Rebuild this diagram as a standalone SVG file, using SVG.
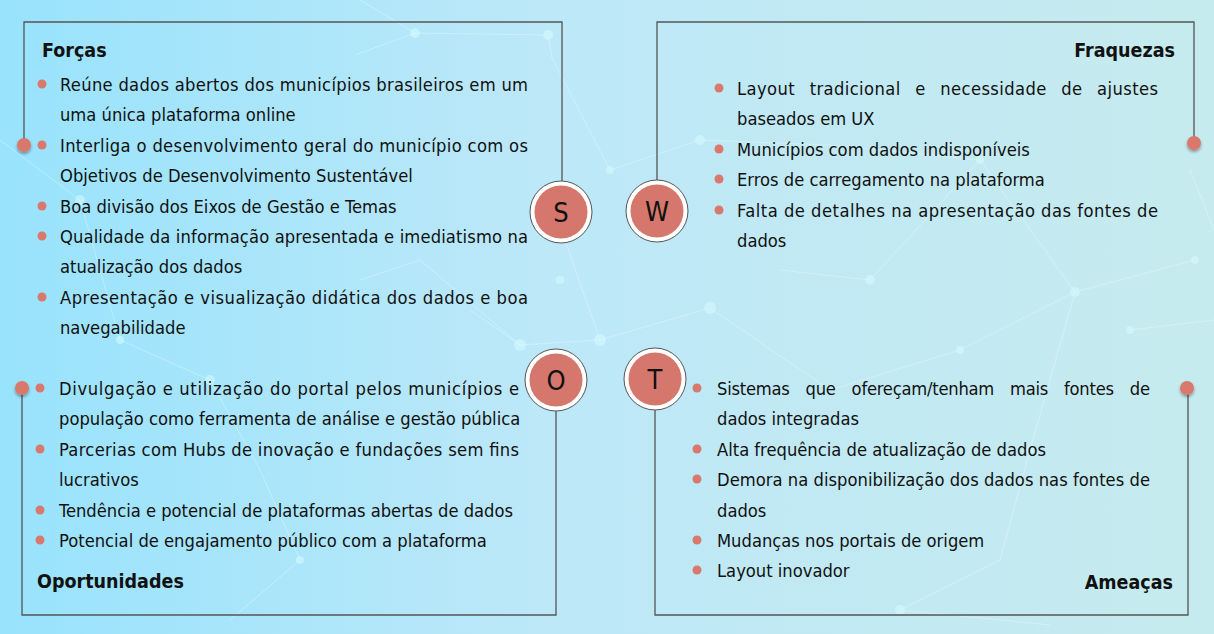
<svg xmlns="http://www.w3.org/2000/svg" width="1214" height="634" viewBox="0 0 1214 634">
<defs>
<linearGradient id="bg" x1="0" y1="0" x2="1" y2="0">
<stop offset="0" stop-color="#98e3fc"/>
<stop offset="0.45" stop-color="#bde8f8"/>
<stop offset="1" stop-color="#c6ebee"/>
</linearGradient>
<filter id="sh" x="-50%" y="-50%" width="200%" height="200%">
<feDropShadow dx="0" dy="2" stdDeviation="1.5" flood-color="#000" flood-opacity="0.35"/>
</filter>
<style>
.t{font-family:"Liberation Sans Narrow","DejaVu Sans Condensed",sans-serif;font-size:18.2px;fill:#111}
.h{font-family:"Liberation Sans Narrow","DejaVu Sans Condensed",sans-serif;font-size:19.5px;font-weight:bold;fill:#111}
.l{font-family:"DejaVu Sans Condensed","Liberation Sans",sans-serif;font-size:27px;fill:#111;text-anchor:middle}
.b{fill:#d9786d}
.ln{stroke:#555;stroke-width:1.3;fill:none}
.ring{fill:#fff;stroke:#555;stroke-width:1}
.core{fill:#d5776c}
.net line{stroke:#e8fbff;stroke-width:1;opacity:0.4}
.net circle{fill:#d6fbff;opacity:0.55}
</style>
</defs>
<rect width="1214" height="634" fill="url(#bg)"/>
<g class="net">
<line x1="360" y1="0" x2="415" y2="33"/><line x1="415" y1="33" x2="548" y2="35"/><line x1="415" y1="33" x2="355" y2="55"/>
<line x1="548" y1="35" x2="552" y2="58"/><line x1="552" y1="58" x2="610" y2="170"/><line x1="610" y1="170" x2="700" y2="140"/>
<line x1="700" y1="140" x2="830" y2="145"/><line x1="830" y1="145" x2="980" y2="160"/><line x1="980" y1="160" x2="1075" y2="292"/>
<line x1="1075" y1="292" x2="1195" y2="260"/><line x1="1075" y1="292" x2="960" y2="350"/><line x1="960" y1="350" x2="830" y2="390"/>
<line x1="710" y1="308" x2="830" y2="390"/><line x1="710" y1="308" x2="600" y2="340"/><line x1="600" y1="340" x2="520" y2="345"/>
<line x1="600" y1="340" x2="565" y2="240"/><line x1="520" y1="345" x2="470" y2="310"/><line x1="1075" y1="292" x2="1030" y2="450"/>
<line x1="1030" y1="450" x2="1000" y2="560"/><line x1="1000" y1="560" x2="900" y2="610"/><line x1="900" y1="610" x2="1050" y2="625"/>
<line x1="1190" y1="170" x2="1214" y2="230"/><line x1="0" y1="140" x2="80" y2="200"/><line x1="80" y1="200" x2="120" y2="340"/>
<line x1="120" y1="340" x2="210" y2="380"/><line x1="210" y1="380" x2="260" y2="470"/><line x1="260" y1="470" x2="300" y2="560"/>
<line x1="300" y1="560" x2="230" y2="620"/><line x1="420" y1="260" x2="520" y2="345"/><line x1="360" y1="280" x2="420" y2="260"/>
<line x1="780" y1="270" x2="870" y2="280"/><line x1="870" y1="280" x2="980" y2="160"/><line x1="1130" y1="330" x2="1214" y2="320"/>
</g>
<g class="net">
<circle cx="415" cy="33" r="5"/><circle cx="548" cy="35" r="5"/><circle cx="610" cy="170" r="4"/><circle cx="700" cy="140" r="5"/>
<circle cx="980" cy="160" r="4"/><circle cx="1075" cy="292" r="5"/><circle cx="960" cy="350" r="4"/><circle cx="710" cy="308" r="6"/>
<circle cx="600" cy="340" r="6"/><circle cx="520" cy="345" r="6"/><circle cx="1030" cy="450" r="4"/><circle cx="900" cy="610" r="5"/>
<circle cx="80" cy="200" r="5"/><circle cx="120" cy="340" r="4"/><circle cx="210" cy="380" r="5"/><circle cx="300" cy="560" r="4"/>
<circle cx="870" cy="280" r="5"/><circle cx="1130" cy="330" r="4"/><circle cx="1195" cy="260" r="4"/><circle cx="560" cy="280" r="4"/>
</g>
<g id="connectors">
<path class="ln" d="M24 145 V22 H562 V181"/>
<path class="ln" d="M657 180 V22 H1194 V143"/>
<path class="ln" d="M22 388 V615 H556 V411"/>
<path class="ln" d="M655 410 V615 H1188 V388"/>
</g>
<g id="dots">
<circle cx="24" cy="145" r="7" class="b" filter="url(#sh)"/>
<circle cx="1194" cy="143" r="7" class="b" filter="url(#sh)"/>
<circle cx="22" cy="388" r="7" class="b" filter="url(#sh)"/>
<circle cx="1187" cy="388" r="7" class="b" filter="url(#sh)"/>
</g>
<g id="forcas">
<text class="h" x="42" y="57">Forças</text>
<circle class="b" cx="42" cy="84" r="4.5"/><circle class="b" cx="42" cy="145" r="4.5"/><circle class="b" cx="42" cy="206" r="4.5"/><circle class="b" cx="42" cy="236" r="4.5"/><circle class="b" cx="42" cy="297" r="4.5"/>
<text class="t" x="60" y="91" textLength="468" lengthAdjust="spacing">Reúne dados abertos dos municípios brasileiros em um</text>
<text class="t" x="60" y="121.4">uma única plataforma online</text>
<text class="t" x="60" y="151.8" textLength="468" lengthAdjust="spacing">Interliga o desenvolvimento geral do município com os</text>
<text class="t" x="60" y="182.2">Objetivos de Desenvolvimento Sustentável</text>
<text class="t" x="60" y="212.6">Boa divisão dos Eixos de Gestão e Temas</text>
<text class="t" x="60" y="243" textLength="468" lengthAdjust="spacing">Qualidade da informação apresentada e imediatismo na</text>
<text class="t" x="60" y="273.4">atualização dos dados</text>
<text class="t" x="60" y="303.8" textLength="468" lengthAdjust="spacing">Apresentação e visualização didática dos dados e boa</text>
<text class="t" x="60" y="334.2">navegabilidade</text>
</g>
<g id="fraquezas">
<text class="h" x="1175" y="57" text-anchor="end">Fraquezas</text>
<circle class="b" cx="719" cy="88" r="4.5"/><circle class="b" cx="719" cy="149" r="4.5"/><circle class="b" cx="719" cy="179" r="4.5"/><circle class="b" cx="719" cy="210" r="4.5"/>
<text class="t" x="737" y="95" word-spacing="9" textLength="421" lengthAdjust="spacing">Layout tradicional e necessidade de ajustes</text>
<text class="t" x="737" y="125.4">baseados em UX</text>
<text class="t" x="737" y="155.8">Municípios com dados indisponíveis</text>
<text class="t" x="737" y="186.2">Erros de carregamento na plataforma</text>
<text class="t" x="737" y="216.6" textLength="421" lengthAdjust="spacing">Falta de detalhes na apresentação das fontes de</text>
<text class="t" x="737" y="247">dados</text>
</g>
<g id="oportunidades">
<circle class="b" cx="40" cy="388" r="4.5"/><circle class="b" cx="40" cy="449" r="4.5"/><circle class="b" cx="40" cy="510" r="4.5"/><circle class="b" cx="40" cy="540" r="4.5"/>
<text class="t" x="59" y="395" textLength="460" lengthAdjust="spacing">Divulgação e utilização do portal pelos municípios e</text>
<text class="t" x="59" y="425.4">população como ferramenta de análise e gestão pública</text>
<text class="t" x="59" y="455.8" textLength="460" lengthAdjust="spacing">Parcerias com Hubs de inovação e fundações sem fins</text>
<text class="t" x="59" y="486.2">lucrativos</text>
<text class="t" x="59" y="516.6">Tendência e potencial de plataformas abertas de dados</text>
<text class="t" x="59" y="547">Potencial de engajamento público com a plataforma</text>
<text class="h" x="37" y="588">Oportunidades</text>
</g>
<g id="ameacas">
<circle class="b" cx="697" cy="388" r="4.5"/><circle class="b" cx="697" cy="449" r="4.5"/><circle class="b" cx="697" cy="479" r="4.5"/><circle class="b" cx="697" cy="540" r="4.5"/><circle class="b" cx="697" cy="570" r="4.5"/>
<text class="t" x="717" y="395" word-spacing="11" textLength="433" lengthAdjust="spacing">Sistemas que ofereçam/tenham mais fontes de</text>
<text class="t" x="717" y="425.4">dados integradas</text>
<text class="t" x="717" y="455.8">Alta frequência de atualização de dados</text>
<text class="t" x="717" y="486.2" textLength="433" lengthAdjust="spacing">Demora na disponibilização dos dados nas fontes de</text>
<text class="t" x="717" y="516.6">dados</text>
<text class="t" x="717" y="547">Mudanças nos portais de origem</text>
<text class="t" x="717" y="577.4">Layout inovador</text>
<text class="h" x="1173" y="589" text-anchor="end">Ameaças</text>
</g>
<g id="node-S"><circle class="ring" cx="561" cy="212" r="31"/><circle class="core" cx="561" cy="212" r="26.5"/><text class="l" x="561" y="222">S</text></g>
<g id="node-W"><circle class="ring" cx="657" cy="211" r="31"/><circle class="core" cx="657" cy="211" r="26.5"/><text class="l" x="657" y="221">W</text></g>
<g id="node-O"><circle class="ring" cx="556" cy="380" r="31"/><circle class="core" cx="556" cy="380" r="26.5"/><text class="l" x="556" y="390">O</text></g>
<g id="node-T"><circle class="ring" cx="655" cy="379" r="31"/><circle class="core" cx="655" cy="379" r="26.5"/><text class="l" x="655" y="389">T</text></g>
</svg>
